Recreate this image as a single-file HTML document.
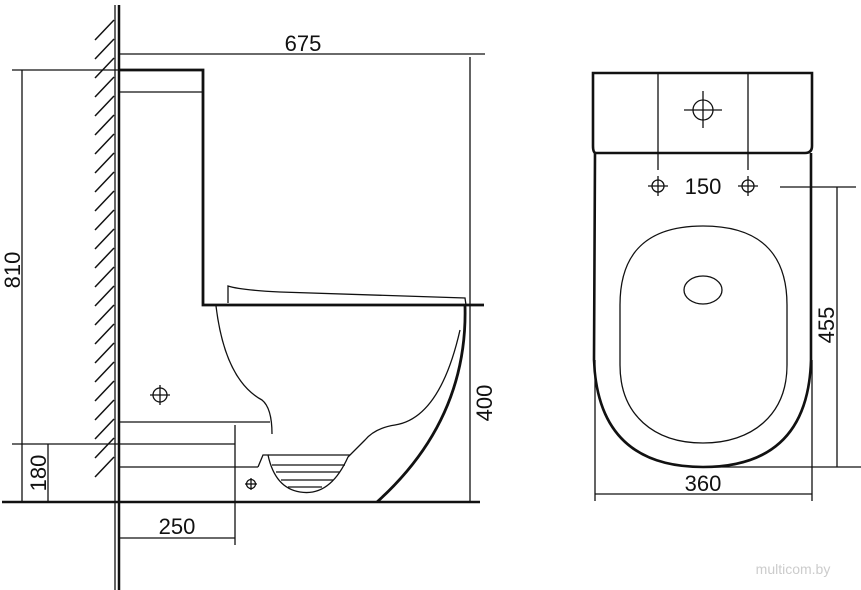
<!DOCTYPE html>
<html><head><style>
html,body{margin:0;padding:0;background:#fff;}
svg{display:block;}
text{font-family:"Liberation Sans",sans-serif;font-size:22px;fill:#111;}
</style></head><body>
<svg width="861" height="590" viewBox="0 0 861 590" xmlns="http://www.w3.org/2000/svg">
<g stroke="#111" fill="none" stroke-width="1.3">
<!-- wall hatching -->
<g stroke-width="1.5">
<line x1="95" y1="40" x2="114" y2="20"/>
<line x1="95" y1="59" x2="114" y2="39"/>
<line x1="95" y1="78" x2="114" y2="58"/>
<line x1="95" y1="97" x2="114" y2="77"/>
<line x1="95" y1="116" x2="114" y2="96"/>
<line x1="95" y1="135" x2="114" y2="115"/>
<line x1="95" y1="154" x2="114" y2="134"/>
<line x1="95" y1="173" x2="114" y2="153"/>
<line x1="95" y1="192" x2="114" y2="172"/>
<line x1="95" y1="211" x2="114" y2="191"/>
<line x1="95" y1="230" x2="114" y2="210"/>
<line x1="95" y1="249" x2="114" y2="229"/>
<line x1="95" y1="268" x2="114" y2="248"/>
<line x1="95" y1="287" x2="114" y2="267"/>
<line x1="95" y1="306" x2="114" y2="286"/>
<line x1="95" y1="325" x2="114" y2="305"/>
<line x1="95" y1="344" x2="114" y2="324"/>
<line x1="95" y1="363" x2="114" y2="343"/>
<line x1="95" y1="382" x2="114" y2="362"/>
<line x1="95" y1="401" x2="114" y2="381"/>
<line x1="95" y1="420" x2="114" y2="400"/>
<line x1="95" y1="439" x2="114" y2="419"/>
<line x1="95" y1="458" x2="114" y2="438"/>
<line x1="95" y1="477" x2="114" y2="457"/>
</g>
<line x1="115" y1="5" x2="115" y2="590" stroke-width="1.3"/>
<line x1="119" y1="5" x2="119" y2="590" stroke-width="2.5"/>
<!-- 675 dim -->
<line x1="119" y1="54" x2="485" y2="54"/>
<line x1="470" y1="57" x2="470" y2="502"/>
<!-- 810 -->
<line x1="12" y1="70" x2="119" y2="70"/>
<line x1="22" y1="70" x2="22" y2="502"/>
<!-- tank -->
<polyline points="119,70 203,70 203,305 484,305" stroke-width="2.8"/>
<line x1="119" y1="92" x2="203" y2="92"/>
<!-- seat lid -->
<path d="M228,303 L228,286 Q240,290 280,292 L465,298 L466,305"/>
<!-- bowl left -->
<path d="M216,306 Q225,380 262,400 Q272,408 272,434"/>
<!-- bowl right outer -->
<path d="M465,306 Q468,420 377,502" stroke-width="2.8"/>
<!-- inner curve -->
<path d="M460,330 Q440,418 395,425 Q375,428 365,440 L348,457 Q330,497 300,492 Q275,488 268,455 L263,455 L258,467"/>
<line x1="268" y1="455" x2="350" y2="455"/>
<line x1="272" y1="465" x2="345" y2="465"/>
<line x1="276" y1="472" x2="340" y2="472"/>
<line x1="281" y1="480" x2="333" y2="480"/>
<line x1="288" y1="487" x2="322" y2="487"/>
<!-- horizontals -->
<line x1="119" y1="422" x2="270" y2="422"/>
<line x1="12" y1="444" x2="235" y2="444"/>
<line x1="119" y1="467" x2="258" y2="467"/>
<line x1="235" y1="425" x2="235" y2="545"/>
<line x1="119" y1="538" x2="235" y2="538"/>
<line x1="48" y1="444" x2="48" y2="502"/>
<!-- floor -->
<line x1="2" y1="502" x2="480" y2="502" stroke-width="2.5"/>
<!-- crosshairs -->
<circle cx="160" cy="395" r="7"/>
<line x1="150" y1="395" x2="170" y2="395"/><line x1="160" y1="385" x2="160" y2="405"/>
<circle cx="251" cy="484" r="4.5"/>
<line x1="245" y1="484" x2="257" y2="484"/><line x1="251" y1="478" x2="251" y2="490"/>

<!-- right view -->
<path d="M596,153 Q593,153 593,146 L593,73 L812,73 L812,146 Q812,153 805,153 Z" stroke-width="2.6"/>
<line x1="658" y1="73" x2="658" y2="170"/>
<line x1="748" y1="73" x2="748" y2="170"/>
<circle cx="703" cy="110" r="10"/>
<line x1="684" y1="110" x2="722" y2="110"/><line x1="703" y1="91" x2="703" y2="128"/>
<circle cx="658" cy="186" r="6"/><line x1="648" y1="186" x2="668" y2="186"/><line x1="658" y1="176" x2="658" y2="196"/>
<circle cx="748" cy="186" r="6"/><line x1="738" y1="186" x2="758" y2="186"/><line x1="748" y1="176" x2="748" y2="196"/>
<line x1="780" y1="187" x2="856" y2="187"/>
<path d="M595,153 L594,360 Q598,467 703,467 Q808,467 811,360 L811,153" stroke-width="2.6"/>
<line x1="715" y1="467" x2="861" y2="467"/>
<line x1="837" y1="187" x2="837" y2="467"/>
<path d="M703,226 C768,226 787,262 787,305 L787,365 C787,415 752,443 703,443 C654,443 620,415 620,365 L620,305 C620,262 638,226 703,226 Z"/>
<ellipse cx="703" cy="290" rx="19" ry="14"/>
<line x1="595" y1="494" x2="812" y2="494"/>
<line x1="595" y1="360" x2="595" y2="501"/>
<line x1="812" y1="360" x2="812" y2="501"/>
</g>
<text x="303" y="51" text-anchor="middle">675</text>
<text transform="translate(20,270) rotate(-90)" text-anchor="middle">810</text>
<text transform="translate(46,473) rotate(-90)" text-anchor="middle">180</text>
<text transform="translate(492,403) rotate(-90)" text-anchor="middle">400</text>
<text x="177" y="534" text-anchor="middle">250</text>
<text x="703" y="194" text-anchor="middle">150</text>
<text transform="translate(834,325) rotate(-90)" text-anchor="middle">455</text>
<text x="703" y="491" text-anchor="middle">360</text>
<text x="793" y="574" text-anchor="middle" style="font-size:14px;fill:#ccc;">multicom.by</text>
</svg>
</body></html>
